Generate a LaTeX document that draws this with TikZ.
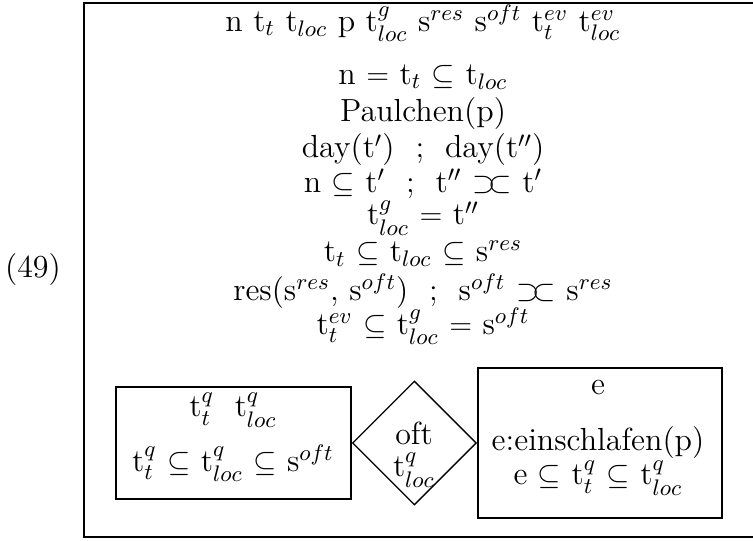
\documentclass[tikz,border=0pt,12pt]{standalone}
\usepackage{amsmath,amssymb}
\usepackage{tikz}
\usetikzlibrary{positioning,shapes.geometric}

\newcommand{\ovlap}{\mathrel{\supset\mkern-4mu\subset}}

\begin{document}
\begin{tikzpicture}[
    x=0.4pt, y=-0.4pt,
    font=\fontsize{12.8}{15}\selectfont,
    cond/.style={inner sep=0pt},
    drs_frame/.style={line width=0.8pt},
    sub_box/.style={draw, line width=0.6pt, inner sep=0pt},
    quant_diamond/.style={draw, diamond, line width=0.5pt, inner sep=0pt, minimum size=49.6pt}
]
\useasboundingbox (0,0) rectangle (753,540);

% main DRS frame (right side runs off the page)
\draw [drs_frame] (790,3) -| (84,537) -- (790,537);

\node (exnum) [cond] at (33,270) {(49)};

% universe and conditions
\node (univ)  [cond] at (423,23)  {n t$_t$ t$_{loc}$ p t$^g_{loc}$ s$^{res}$ s$^{oft}$ t$^{ev}_t$ t$^{ev}_{loc}$};
\node (c_now) [cond] at (423,77)  {n $=$ t$_t$ $\subseteq$ t$_{loc}$};
\node (c_pau) [cond] at (423,114) {Paulchen(p)};
\node (c_day) [cond] at (423,150) {day(t$'$)~~;~~day(t$''$)};
\node (c_inc) [cond] at (423,184) {n $\subseteq$ t$'$~~;~~t$''$ $\ovlap$ t$'$};
\node (c_loc) [cond] at (423,218) {t$^g_{loc}$ $=$ t$''$};
\node (c_res) [cond] at (423,254) {t$_t$ $\subseteq$ t$_{loc}$ $\subseteq$ s$^{res}$};
\node (c_oft) [cond] at (423,291) {res(s$^{res}$, s$^{oft}$)~~;~~s$^{oft}$ $\ovlap$ s$^{res}$};
\node (c_ev)  [cond] at (423,326) {t$^{ev}_t$ $\subseteq$ t$^g_{loc}$ $=$ s$^{oft}$};

% duplex condition
\node (restr_box) [sub_box, minimum width=94pt, minimum height=44.8pt] at (233.5,443) {};
\node (oft_q) [quant_diamond, right=0pt of restr_box] {};
\node (nucl_box) [sub_box, right=0pt of oft_q, minimum width=97.6pt, minimum height=60pt] {};

\node (r_univ) [cond] at (233,410) {t$^q_t$~~t$^q_{loc}$};
\node (r_cond) [cond] at (233,463) {t$^q_t$ $\subseteq$ t$^q_{loc}$ $\subseteq$ s$^{oft}$};

\node (q_word) [cond] at (414,433) {oft};
\node (q_var)  [cond] at (414,470) {t$^q_{loc}$};

\node (n_univ) [cond] at (598,388) {e};
\node (n_pred) [cond] at (598,443) {e:einschlafen(p)};
\node (n_cond) [cond] at (598,478) {e $\subseteq$ t$^q_t$ $\subseteq$ t$^q_{loc}$};

\end{tikzpicture}
\end{document}
